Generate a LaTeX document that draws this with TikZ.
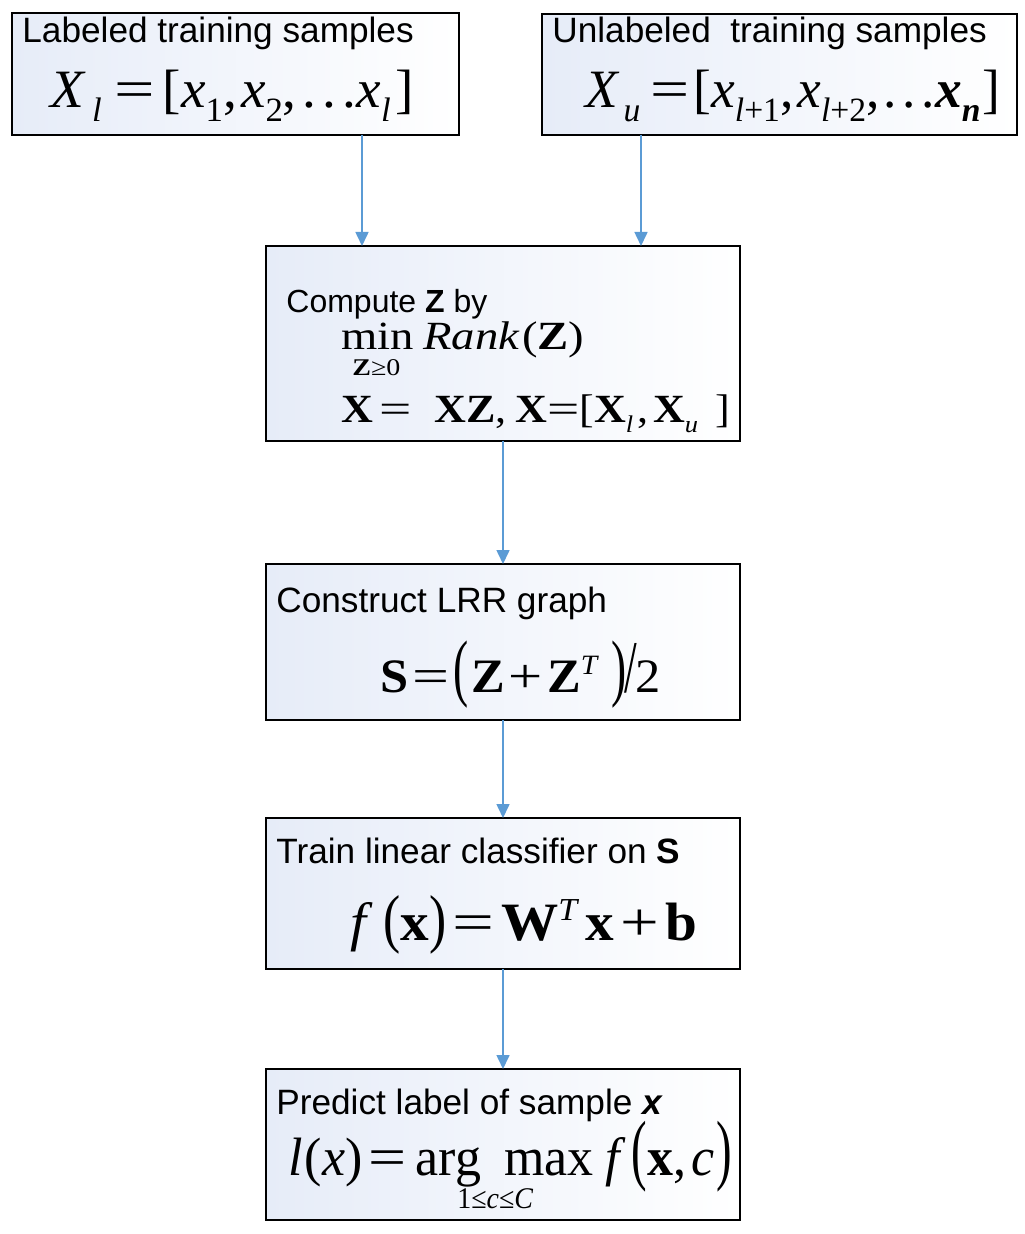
\documentclass[tikz,border=0pt]{standalone}
\usepackage{graphicx}
\usepackage{fontspec}
\newfontfamily\arial{Liberation Sans}
\newfontfamily\tms{Liberation Serif}
\usetikzlibrary{arrows.meta}
\definecolor{boxfill}{RGB}{230,236,248}
\definecolor{arrowblue}{RGB}{91,155,213}
% lowered / raised small text
\newcommand\subx[3]{\raisebox{-#1}{\fontsize{#2}{#2}\selectfont #3}}
\newcommand\supx[3]{\raisebox{#1}{\fontsize{#2}{#2}\selectfont #3}}
\newcommand\tallp[2]{\scalebox{0.9}[#1]{#2}}
\newcommand\bi[1]{\textbf{\textit{#1}}}
\newcommand\eqx{\scalebox{1.3}[1]{=}}
\newcommand\plx{\scalebox{1.2}[1]{+}}
\newcommand\fitw[2]{\resizebox{#1}{\height}{#2}}
\begin{document}
\begin{tikzpicture}[x=0.5pt,y=-0.5pt,
  box/.style={draw=black, line width=1pt, left color=boxfill, right color=white,
    anchor=north west, inner sep=0pt, outer sep=0pt},
  lab/.style={anchor=base west, inner sep=0pt, font=\arial\fontsize{17.6}{20}\selectfont},
  eq/.style={anchor=base west, inner sep=0pt},
  arr/.style={draw=arrowblue, line width=0.8pt, -{Triangle[width=6.5pt,length=7pt]}}]
\fill[white] (0,0) rectangle (1024,1234);
\useasboundingbox (0,0) rectangle (1024,1234);

% boxes
\node[box, minimum width=447*0.5pt, minimum height=122*0.5pt] (b1) at (12,13) {};
\node[box, minimum width=475*0.5pt, minimum height=121*0.5pt] (b2) at (542,14) {};
\node[box, minimum width=474*0.5pt, minimum height=195*0.5pt] (b3) at (266,246) {};
\node[box, minimum width=474*0.5pt, minimum height=156*0.5pt] (b4) at (266,564) {};
\node[box, minimum width=474*0.5pt, minimum height=151*0.5pt] (b5) at (266,818) {};
\node[box, minimum width=474*0.5pt, minimum height=151*0.5pt] (b6) at (266,1069) {};

% box 1
\node[lab] (t1) at (22,43) {Labeled training samples};
\node[eq, font=\tms\fontsize{27}{30}\selectfont] (m1) at (50,108)
  {\fitw{181.5pt}{\textit{X}\hspace{3pt}\subx{7pt}{17}{\textit{l}}\hspace{6pt}\eqx\hspace{4pt}[\textit{x}\subx{7pt}{17}{1},\hspace{2pt}\textit{x}\subx{7pt}{17}{2},\hspace{3pt}.\hspace{3pt}.\hspace{3pt}.\textit{x}\subx{7pt}{17}{\textit{l}}\hspace{2pt}]}};
% box 2
\node[lab] (t2) at (552,43) {Unlabeled\ \ training samples};
\node[eq, font=\tms\fontsize{27}{30}\selectfont] (m2) at (585,108)
  {\fitw{207.5pt}{\textit{X}\hspace{2pt}\subx{7pt}{17}{\textit{u}}\hspace{5pt}\eqx\hspace{2pt}[\textit{x}\subx{7pt}{17}{\textit{l}+1},\hspace{2pt}\textit{x}\subx{7pt}{17}{\textit{l}+2},\hspace{2pt}.\hspace{3pt}.\hspace{3pt}.\bi{x}\subx{7pt}{17}{\bi{n}}\hspace{1pt}]}};
% box 3
\node[lab, font=\arial\fontsize{16}{18}\selectfont] (t3) at (286,313) {Compute \textbf{Z} by};
\node[eq, font=\tms\fontsize{20}{22}\selectfont] (m3a) at (341,350)
  {\fitw{121.5pt}{min\hspace{4pt}\textit{Rank}\hspace{1pt}(\textbf{Z})}};
\node[eq, font=\tms\fontsize{12}{13}\selectfont] (m3s) at (352,376) {\fitw{24pt}{\textbf{Z}≥0}};
\node[eq, font=\tms\fontsize{20}{22}\selectfont] (m3b) at (341,423)
  {\fitw{194.5pt}{\textbf{X}\hspace{3pt}\eqx\hspace{10pt}\textbf{XZ},\hspace{4pt}\textbf{X}\eqx[\textbf{X}\subx{5pt}{12}{\textit{l}}\hspace{2pt},\hspace{2pt}\textbf{X}\subx{5pt}{12}{\textit{u}}\hspace{8pt}]}};
% box 4
\node[lab] (t4) at (276,612) {Construct LRR graph};
\node[eq, font=\tms\fontsize{24}{27}\selectfont] (m4) at (380,692)
  {\fitw{140pt}{\textbf{S}\hspace{2pt}\eqx\hspace{2pt}\tallp{1.55}{(}\hspace{1pt}\textbf{Z}\hspace{2pt}\plx\hspace{2pt}\textbf{Z}\supx{9pt}{14}{\textit{T}}\hspace{6pt}\tallp{1.55}{)}\hspace{-1pt}\tallp{1.55}{/}\hspace{-1pt}2}};
% box 5
\node[lab] (t5) at (276,863) {Train linear classifier on \textbf{S}};
\node[eq, font=\tms\fontsize{27}{30}\selectfont] (m5) at (350,940)
  {\fitw{173.5pt}{\textit{f}\hspace{5pt}\tallp{1.2}{(}\textbf{x}\tallp{1.2}{)}\hspace{3pt}\eqx\hspace{3pt}\textbf{W}\supx{10pt}{16}{\textit{T}}\hspace{3pt}\textbf{x}\hspace{3pt}\plx\hspace{3pt}\textbf{b}}};
% box 6
\node[lab] (t6) at (276,1114) {Predict label of sample \bi{x}};
\node[eq, font=\tms\fontsize{27}{30}\selectfont] (m6) at (288,1175)
  {\fitw{222pt}{\textit{l}\hspace{1pt}(\textit{x})\hspace{3pt}\eqx\hspace{5pt}arg\hspace{12pt}max\hspace{6pt}\textit{f}\hspace{3pt}\tallp{1.45}{(}\textbf{x},\hspace{3pt}\textit{c}\hspace{1pt}\tallp{1.45}{)}}};
\node[eq, font=\tms\fontsize{15}{16}\selectfont] (m6s) at (457,1208) {\fitw{38pt}{1≤\textit{c}≤\textit{C}}};

% connectors
\coordinate (xa) at (362,0);
\coordinate (xb) at (641,0);
\coordinate (xc) at (503,0);
\draw[arr] (b1.south -| xa) -- (b3.north -| xa);
\draw[arr] (b2.south -| xb) -- (b3.north -| xb);
\draw[arr] (b3.south -| xc) -- (b4.north -| xc);
\draw[arr] (b4.south -| xc) -- (b5.north -| xc);
\draw[arr] (b5.south -| xc) -- (b6.north -| xc);
\end{tikzpicture}
\end{document}
